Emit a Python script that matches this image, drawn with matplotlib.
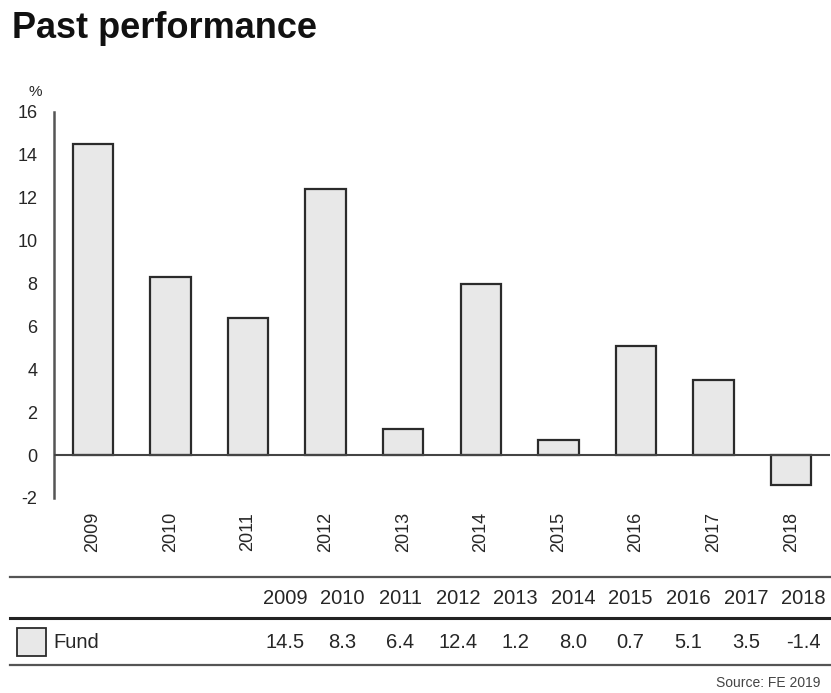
import matplotlib
matplotlib.use("Agg")
import matplotlib.pyplot as plt
from matplotlib.lines import Line2D
from matplotlib.patches import Rectangle

years = ["2009", "2010", "2011", "2012", "2013", "2014", "2015", "2016", "2017", "2018"]
fund = [14.5, 8.3, 6.4, 12.4, 1.2, 8.0, 0.7, 5.1, 3.5, -1.4]
fund_labels = ["14.5", "8.3", "6.4", "12.4", "1.2", "8.0", "0.7", "5.1", "3.5", "-1.4"]
series_name = "Fund"
yticks = [-2, 0, 2, 4, 6, 8, 10, 12, 14, 16]

W, H = 831, 693
plt.rcParams['font.family'] = ['Liberation Sans', 'DejaVu Sans']
txt = '#262626'
bar_fill = '#e8e8e8'
edge = '#2b2b2b'


def fx(px):
    return px / W


def fy(py):
    return 1 - py / H


fig = plt.figure(figsize=(W / 100, H / 100), dpi=100)
fig.text(fx(12), fy(28), "Past performance", fontsize=26, fontweight='bold',
         color='#111111', va='center', ha='left')

# main bar chart
ax = fig.add_axes([fx(54), fy(498), fx(830) - fx(54), fy(112) - fy(498)])
x = list(range(len(years)))
ax.bar(x, fund, width=0.52, color=bar_fill, edgecolor=edge, linewidth=1.6, zorder=2)
ax.axhline(0, color='#444444', lw=1.5, zorder=3)
ax.set_xlim(-0.5, len(years) - 0.5)
ax.set_ylim(-2, 16)
ax.set_yticks(yticks)
ax.set_yticklabels([str(v) for v in yticks], fontsize=13, color=txt)
ax.set_xticks(x)
ax.set_xticklabels(years, rotation=90, fontsize=13, color=txt)
ax.tick_params(axis='both', length=0)
ax.tick_params(axis='x', pad=10)
ax.tick_params(axis='y', pad=12)
for s in ['top', 'right', 'bottom']:
    ax.spines[s].set_visible(False)
ax.spines['left'].set_color('#555555')
ax.spines['left'].set_linewidth(1.8)
fig.text(fx(35), fy(92), "%", fontsize=11, color=txt, ha='center', va='center')

# data table below the chart
col_x = [285 + 57.6 * i for i in range(len(years))]
for y_px, lw, c in [(577, 1.6, '#555555'), (618, 2.2, '#222222'), (665, 1.6, '#555555')]:
    fig.add_artist(Line2D([fx(10), fx(831)], [fy(y_px), fy(y_px)], color=c, lw=lw,
                          transform=fig.transFigure))
for cx, yr, val in zip(col_x, years, fund_labels):
    fig.text(fx(cx), fy(598), yr, fontsize=14.5, color=txt, ha='center', va='center')
    fig.text(fx(cx), fy(642), val, fontsize=14.5, color=txt, ha='center', va='center')

fig.add_artist(Rectangle((fx(17), fy(656)), fx(46) - fx(17), fy(628) - fy(656),
                         facecolor=bar_fill, edgecolor=edge, lw=1.3,
                         transform=fig.transFigure))
fig.text(fx(53), fy(642), series_name, fontsize=14.5, color=txt, ha='left', va='center')
fig.text(fx(820), fy(683), "Source: FE 2019", fontsize=10, color='#444444',
         ha='right', va='center')

fig.savefig("out.png", dpi=100)
